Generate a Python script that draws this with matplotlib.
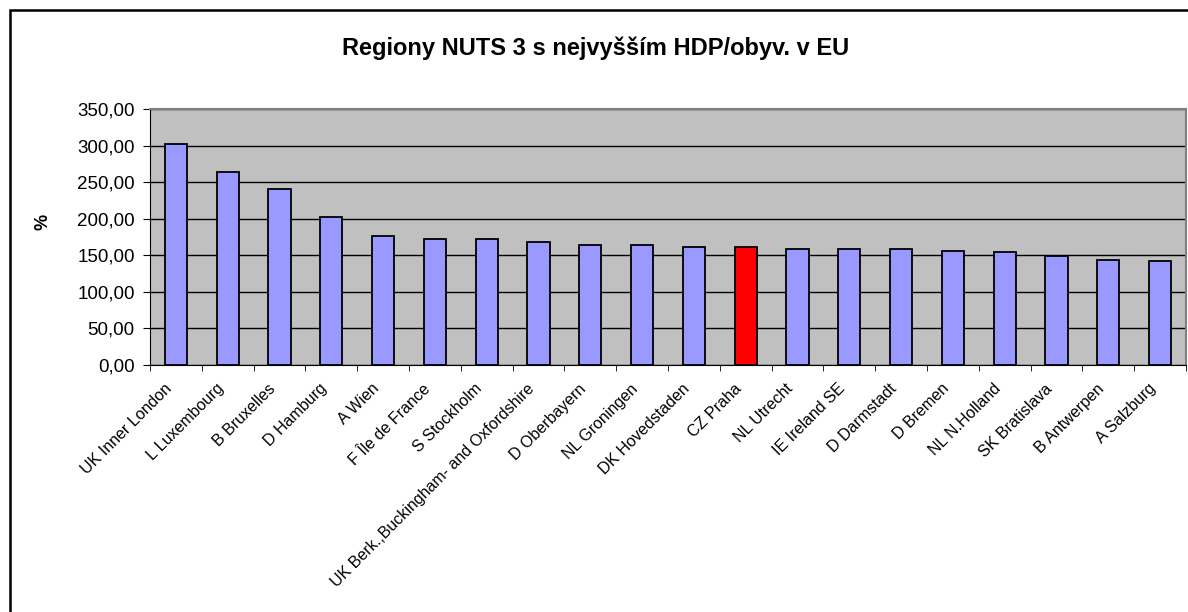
import numpy as np
import matplotlib.pyplot as plt
from matplotlib.patches import Rectangle
from matplotlib.ticker import FuncFormatter
from matplotlib.transforms import ScaledTranslation

regions = ['UK Inner London', 'L Luxembourg', 'B Bruxelles', 'D Hamburg', 'A Wien',
           'F Île de France', 'S Stockholm', 'UK Berk.,Buckingham- and Oxfordshire',
           'D Oberbayern', 'NL Groningen', 'DK Hovedstaden', 'CZ Praha', 'NL Utrecht',
           'IE Ireland SE', 'D Darmstadt', 'D Bremen', 'NL N.Holland', 'SK Bratislava',
           'B Antwerpen', 'A Salzburg']
gdp = [302.0, 263.4, 240.6, 201.9, 176.8, 172.7, 172.7, 168.6, 164.5, 164.5,
       160.9, 160.9, 158.2, 158.2, 158.2, 155.8, 154.0, 148.6, 143.5, 141.8]
highlight = 'CZ Praha'

plt.rcParams.update({
    'font.family': ['Liberation Sans', 'DejaVu Sans'],
    'font.size': 11,
})

W, H = 1188, 612
fig = plt.figure(figsize=(W / 100, H / 100), dpi=100)
ax = fig.add_axes([150 / W, 1 - 365 / H, (1186 - 150) / W, (365 - 109) / H])

# chart border (only left and top visible, rest cropped)
fig.patches.append(Rectangle((10 / W, -0.1), 1.2, 1 - 10 / H + 0.1,
                             transform=fig.transFigure, fill=False,
                             edgecolor='black', linewidth=1.8))

x = np.arange(len(regions))
colors = ['#FF0000' if r == highlight else '#9999FF' for r in regions]
ax.set_facecolor('#C0C0C0')
ax.set_axisbelow(True)
ax.yaxis.grid(True, color='black', linewidth=1)
ax.bar(x, gdp, width=0.43, color=colors, edgecolor='black', linewidth=1.3, zorder=3)

ax.set_xlim(-0.5, len(regions) - 0.5)
ax.set_ylim(0, 350)
ax.set_yticks(np.arange(0, 351, 50))
ax.yaxis.set_major_formatter(FuncFormatter(lambda v, p: f'{v:.2f}'.replace('.', ',')))
ax.tick_params(axis='y', direction='out', length=5, labelsize=13.5, pad=6)

ax.set_xticks(x)
ax.set_xticklabels(regions, rotation=45, ha='right', rotation_mode='anchor', fontsize=11.5)
ax.set_xticks(np.arange(-0.5, len(regions)), minor=True)
ax.tick_params(axis='x', which='major', length=0, pad=8)
ax.tick_params(axis='x', which='minor', direction='out', length=4)
shift = ScaledTranslation(-12 / 100, -5 / 100, fig.dpi_scale_trans)
for lbl in ax.get_xticklabels():
    lbl.set_transform(lbl.get_transform() + shift)

for s in ['top', 'right']:
    ax.spines[s].set_color('#808080')
    ax.spines[s].set_linewidth(1.5)
ax.spines['left'].set_color('black')
ax.spines['bottom'].set_color('black')

fig.text(43 / W, 1 - 222 / H, '%', rotation=90, ha='center', va='center',
         fontsize=13, fontweight='bold')
fig.text(596 / W, 1 - 48 / H, 'Regiony NUTS 3 s nejvyšším HDP/obyv. v EU',
         ha='center', va='center', fontsize=17, fontweight='bold')

fig.savefig('out.png', dpi=100)
